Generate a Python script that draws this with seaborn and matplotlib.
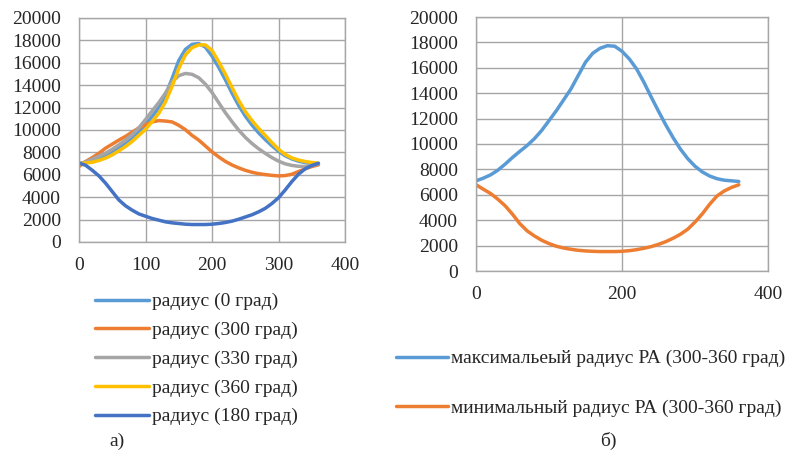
import numpy as np
import pandas as pd
import seaborn as sns
import matplotlib
matplotlib.use('Agg')
import matplotlib.pyplot as plt

# angle, deg (step 10)
angle = list(range(0, 361, 10))

# --- chart a) ---
r_0 = [7000, 7100, 7280, 7480, 7720, 8030, 8380, 8800, 9280, 9850,
       10480, 11200, 12000, 13100, 14600, 16200, 17200, 17650, 17720, 17400,
       16600, 15600, 14500, 13300, 12200, 11250, 10450, 9750, 9150, 8600,
       8100, 7700, 7420, 7220, 7090, 7020, 7000]
r_300 = [6740, 7190, 7540, 7930, 8380, 8740, 9100, 9430, 9820, 10180,
         10480, 10720, 10840, 10800, 10720, 10420, 10030, 9520, 9100, 8580,
         8050, 7600, 7200, 6880, 6620, 6400, 6230, 6100, 6020, 5950,
         5900, 5930, 6050, 6290, 6530, 6740, 6890]
r_330 = [7000, 7150, 7400, 7650, 7930, 8280, 8680, 9100, 9580, 10200,
         10930, 11700, 12450, 13300, 14300, 14850, 15050, 14970, 14670, 14100,
         13350, 12450, 11550, 10750, 10000, 9350, 8800, 8330, 7920, 7540,
         7220, 6980, 6840, 6760, 6740, 6830, 6980]
r_360 = [7000, 7050, 7120, 7280, 7490, 7780, 8140, 8530, 8980, 9520,
         10050, 10750, 11500, 12500, 13900, 15500, 16700, 17350, 17600, 17600,
         17100, 16100, 15000, 13800, 12650, 11650, 10850, 10150, 9520, 8880,
         8280, 7820, 7510, 7320, 7190, 7100, 7030]
r_180 = [7050, 6850, 6400, 5900, 5250, 4500, 3750, 3230, 2840, 2510,
         2300, 2100, 1950, 1800, 1710, 1650, 1590, 1560, 1560, 1560,
         1590, 1650, 1740, 1860, 2030, 2230, 2430, 2690, 3000, 3430,
         3950, 4640, 5390, 6050, 6530, 6830, 7030]

names_a = ['радиус (0 град)', 'радиус (300 град)', 'радиус (330 град)',
           'радиус (360 град)', 'радиус (180 град)']
colors_a = ['#5B9BD5', '#ED7D31', '#A5A5A5', '#FFC000', '#4472C4']

# --- chart б) ---
r_max = [7100, 7310, 7570, 7940, 8420, 8940, 9420, 9880, 10420, 11070,
         11840, 12620, 13470, 14330, 15390, 16440, 17150, 17540, 17740, 17700,
         17300, 16700, 15910, 14860, 13700, 12580, 11500, 10500, 9600, 8850,
         8250, 7800, 7480, 7270, 7150, 7100, 7050]
r_min = [6790, 6440, 6100, 5650, 5130, 4470, 3730, 3160, 2760, 2420,
         2160, 1950, 1810, 1710, 1630, 1580, 1550, 1530, 1530, 1530,
         1550, 1600, 1680, 1790, 1920, 2100, 2310, 2580, 2890, 3290,
         3850, 4500, 5250, 5900, 6300, 6580, 6790]

names_b = ['максимальеый радиус РА (300-360 град)', 'минимальный радиус РА (300-360 град)']
colors_b = ['#5B9BD5', '#ED7D31']

sns.set_style('white')
plt.rcParams['font.family'] = ['Liberation Serif', 'DejaVu Serif']
FS = 14
GRID = '#A6A6A6'
LW = 2.5

df_a = pd.concat([pd.DataFrame({'x': angle, 'y': v, 'name': n})
                  for n, v in zip(names_a, [r_0, r_300, r_330, r_360, r_180])])
df_b = pd.concat([pd.DataFrame({'x': angle, 'y': v, 'name': n})
                  for n, v in zip(names_b, [r_max, r_min])])

fig = plt.figure(figsize=(8.01, 4.55), dpi=100)
ax1 = fig.add_axes([79 / 801, 213 / 455, 266 / 801, 224 / 455])
ax2 = fig.add_axes([476 / 801, 184 / 455, 292 / 801, 254 / 455])

sns.lineplot(data=df_a, x='x', y='y', hue='name', hue_order=names_a,
             palette=colors_a, linewidth=LW, ax=ax1, legend=False, sort=False)
sns.lineplot(data=df_b, x='x', y='y', hue='name', hue_order=names_b,
             palette=colors_b, linewidth=LW, ax=ax2, legend=False, sort=False)

for ax, step in [(ax1, 100), (ax2, 200)]:
    ax.set_xlim(0, 400)
    ax.set_ylim(0, 20000)
    ax.set_xticks(np.arange(0, 401, step))
    ax.set_yticks(np.arange(0, 20001, 2000))
    ax.grid(True, color=GRID, linewidth=1)
    ax.set_axisbelow(True)
    for s in ax.spines.values():
        s.set_color(GRID)
        s.set_linewidth(1)
    ax.tick_params(length=0, labelsize=FS)
    ax.tick_params(axis='y', pad=13)
    ax.tick_params(axis='x', pad=11)
    ax.set_xlabel('')
    ax.set_ylabel('')
    for ln in ax.get_lines():
        ln.set_solid_joinstyle('round')
        ln.set_solid_capstyle('round')

leg1 = fig.legend(ax1.get_lines()[:5], names_a, loc='upper left',
                  bbox_to_anchor=(85 / 801, 1 - 283 / 455), frameon=False,
                  fontsize=FS, handlelength=2.8, handletextpad=0.15,
                  labelspacing=0.57, borderpad=0)
for h in leg1.get_lines():
    h.set_linewidth(LW)

leg2 = fig.legend(ax2.get_lines()[:2], names_b, loc='upper left',
                  bbox_to_anchor=(386 / 801, 1 - 340 / 455), frameon=False,
                  fontsize=FS, handlelength=2.7, handletextpad=0.15,
                  labelspacing=1.65, borderpad=0)
for h in leg2.get_lines():
    h.set_linewidth(LW)

fig.text(117 / 801, 1 - 441 / 455, 'а)', fontsize=FS, ha='center', va='center')
fig.text(608 / 801, 1 - 441 / 455, 'б)', fontsize=FS, ha='center', va='center')

fig.savefig('out.png', dpi=100)
